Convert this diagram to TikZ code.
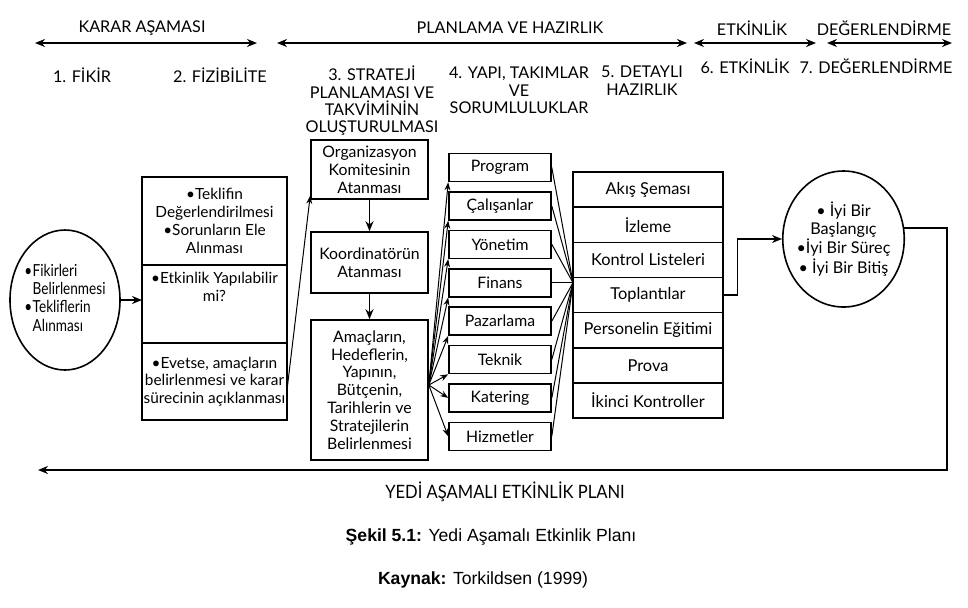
\documentclass[tikz,border=0pt]{standalone}
\usepackage{fontspec}
\setmainfont{Lato}
\newfontfamily\capfont{Liberation Sans}
\usetikzlibrary{arrows.meta,positioning,shapes.geometric}

\newcommand{\blt}{\makebox[5pt][l]{•}}
\newcommand{\bltgap}{\hspace*{5pt}}

\begin{document}
\begin{tikzpicture}[x=0.5pt,y=-0.5pt,
  every node/.style={font=\fontsize{7.9}{8.9}\selectfont},
  hdr/.style={font=\fontsize{8.1}{8.7}\selectfont,align=center},
  secbox/.style={draw,line width=0.8pt,outer sep=0pt,minimum width=72.5pt,
               align=center,inner xsep=0pt,inner ysep=1pt,
               font=\fontsize{7.7}{8.9}\selectfont},
  stagebox/.style={draw,line width=0.8pt,minimum width=58.5pt,align=center,
               inner sep=1pt},
  teambox/.style={draw,line width=0.8pt,minimum width=51pt,minimum height=14pt,
               inner sep=0pt},
  rowbox/.style={draw,line width=0.8pt,outer sep=0pt,minimum width=75pt,
               minimum height=17.57pt,inner sep=0pt,font=\fontsize{8.2}{9}\selectfont},
  oval/.style={draw,ellipse,line width=0.8pt,inner ysep=0pt,
               font=\fontsize{8.1}{8.7}\selectfont},
  span/.style={{Stealth[length=5pt,width=4pt]}-{Stealth[length=5pt,width=4pt]},line width=1pt},
  arr/.style={-{Stealth[length=5pt,width=4pt]},line width=0.9pt},
  fan/.style={-{Stealth[length=4pt,width=3pt]},line width=0.5pt},
  link/.style={line width=0.5pt},
]
  \useasboundingbox (0,0) rectangle (968,607);

  % phase headers
  \node[hdr] (karar) at (142,28) {KARAR AŞAMASI};
  \node[hdr] (plan)  at (510,28) {PLANLAMA VE HAZIRLIK};
  \node[hdr] (etk)   at (752,28) {ETKİNLİK};
  \node[hdr] (deg)   at (884,28) {DEĞERLENDİRME};
  \coordinate (k1) at (35,43);  \coordinate (k2) at (257,43);
  \coordinate (p1) at (277,43); \coordinate (p2) at (687,43);
  \coordinate (e1) at (694,43); \coordinate (e2) at (816,43);
  \coordinate (d1) at (827,43); \coordinate (d2) at (952,43);
  \draw[span] (k1) -- (k2);
  \draw[span] (p1) -- (p2);
  \draw[span] (e1) -- (e2);
  \draw[span] (d1) -- (d2);

  % stage titles
  \node[hdr] (s1) at (82,75)  {1. FİKİR};
  \node[hdr] (s2) at (220,75) {2. FİZİBİLİTE};
  \node[hdr,anchor=north] (s3) at (372,59) {3. STRATEJİ\\PLANLAMASI VE\\TAKVİMİNİN\\OLUŞTURULMASI};
  \node[hdr,anchor=north] (s4) at (519,60) {4. YAPI, TAKIMLAR\\VE\\SORUMLULUKLAR};
  \node[hdr,anchor=north] (s5) at (642,59) {5. DETAYLI\\HAZIRLIK};
  \node[hdr] (s6) at (745,66) {6. ETKİNLİK};
  \node[hdr] (s7) at (876,66) {7. DEĞERLENDİRME};

  % 1. idea
  \node[oval,minimum width=55pt,minimum height=70pt,inner xsep=-5pt,
        font=\fontsize{8.3}{9.2}\selectfont] (fikir) at (65,300)
    {\scalebox{0.82}[1]{\begin{tabular}{@{}l@{}}\blt Fikirleri\\\bltgap Belirlenmesi\\
     \blt Tekliflerin\\\bltgap Alınması\end{tabular}}};

  % 2. feasibility
  \node[secbox,minimum height=44pt,anchor=north west] (teklif) at (142,177)
    {•Teklifin\\Değerlendirilmesi\\•Sorunların Ele\\Alınması};
  \node[secbox,minimum height=39pt,below=0pt of teklif] (yapil)
    {•Etkinlik Yapılabilir\\mi?\\[8pt]\mbox{}};
  \node[secbox,minimum height=38.5pt,below=0pt of yapil] (evet)
    {•Evetse, amaçların\\belirlenmesi ve karar\\sürecinin açıklanması};

  % 3. strategy
  \node[stagebox,minimum height=29.5pt] (org) at (369.5,169.5)
    {Organizasyon\\Komitesinin\\Atanması};
  \node[stagebox,minimum height=30.5pt] (koord) at (369.5,262.5)
    {Koordinatörün\\Atanması};
  \node[stagebox,minimum height=70pt] (amac) at (369.5,390)
    {Amaçların,\\Hedeflerin,\\Yapının,\\Bütçenin,\\Tarihlerin ve\\Stratejilerin\\Belirlenmesi};

  % 4. teams
  \node[teambox] (prog) at (500,167.5) {Program};
  \node[teambox,below=4.4pt of prog]  (calis)  {Çalışanlar};
  \node[teambox,below=4.4pt of calis] (yonet)  {Yönetim};
  \node[teambox,below=4.4pt of yonet] (finans) {Finans};
  \node[teambox,below=4.4pt of finans] (pazar) {Pazarlama};
  \node[teambox,below=4.4pt of pazar] (teknik) {Teknik};
  \node[teambox,below=4.4pt of teknik] (kater) {Katering};
  \node[teambox,below=4.4pt of kater] (hizmet) {Hizmetler};

  % 5. details
  \node[rowbox] (akis) at (648,189.6) {Akış Şeması};
  \node[rowbox,below=0pt of akis]  (izle)  {İzleme};
  \node[rowbox,below=0pt of izle]  (kontr) {Kontrol Listeleri};
  \node[rowbox,below=0pt of kontr] (topl)  {Toplantılar};
  \node[rowbox,below=0pt of topl]  (pers)  {Personelin Eğitimi};
  \node[rowbox,below=0pt of pers]  (prova) {Prova};
  \node[rowbox,below=0pt of prova] (ikinci) {İkinci Kontroller};

  % 7. evaluation
  \node[oval,minimum width=58.5pt,minimum height=68pt,inner xsep=-2pt,align=center] (iyi) at (843.5,239)
    {• İyi Bir\\Başlangıç\\•İyi Bir Süreç\\• İyi Bir Bitiş};

  % connectors
  \draw[arr] (fikir) -- (fikir -| teklif.west);
  \draw[link,-{Stealth[length=4pt,width=3pt]}] ([yshift=15pt]evet.south east) -- ([yshift=2pt]org.south west);
  \draw[arr] (org) -- (koord);
  \draw[arr] (koord) -- (amac);

  \coordinate (src) at ([yshift=2.5pt]amac.east);
  \draw[fan] (src) -- (prog.south west);
  \draw[fan] (src) -- (calis.south west);
  \draw[fan] (src) -- (yonet.south west);
  \draw[fan] (src) -- (finans.south west);
  \draw[fan] (src) -- (pazar.south west);
  \draw[fan] (src) -- (teknik.south west);
  \draw[fan] (src) -- (kater.west);
  \draw[fan] (src) -- (hizmet.west);

  \coordinate (hub) at (finans.east -| akis.west);
  \draw[link] (prog.east)   -- (hub);
  \draw[link] (calis.east)  -- (hub);
  \draw[link] (yonet.east)  -- (hub);
  \draw[link] (finans.east) -- (hub);
  \draw[link] (pazar.east)  -- (hub);
  \draw[link] (teknik.east) -- (hub);
  \draw[link] (kater.east)  -- (hub);
  \draw[link] (hizmet.east) -- (hub);

  \draw[arr] (topl.east) -- ++(14.5,0) |- (iyi.west);

  \coordinate (backR) at (947,470);
  \coordinate (backL) at (38,470);
  \draw[arr] (iyi.10) -| (backR) -- (backL);
  \node[font=\fontsize{9.2}{10}\selectfont] (yedi) at (505,492)
    {\scalebox{0.9}[1]{YEDİ AŞAMALI ETKİNLİK PLANI}};

  % caption
  \node[font=\capfont\fontsize{8.8}{10}\selectfont] (cap) at (491,537)
    {\textbf{Şekil 5.1:} Yedi Aşamalı Etkinlik Planı};
  \node[font=\capfont\fontsize{8.8}{10}\selectfont] (src1) at (483,580)
    {\textbf{Kaynak:} Torkildsen (1999)};
\end{tikzpicture}
\end{document}
